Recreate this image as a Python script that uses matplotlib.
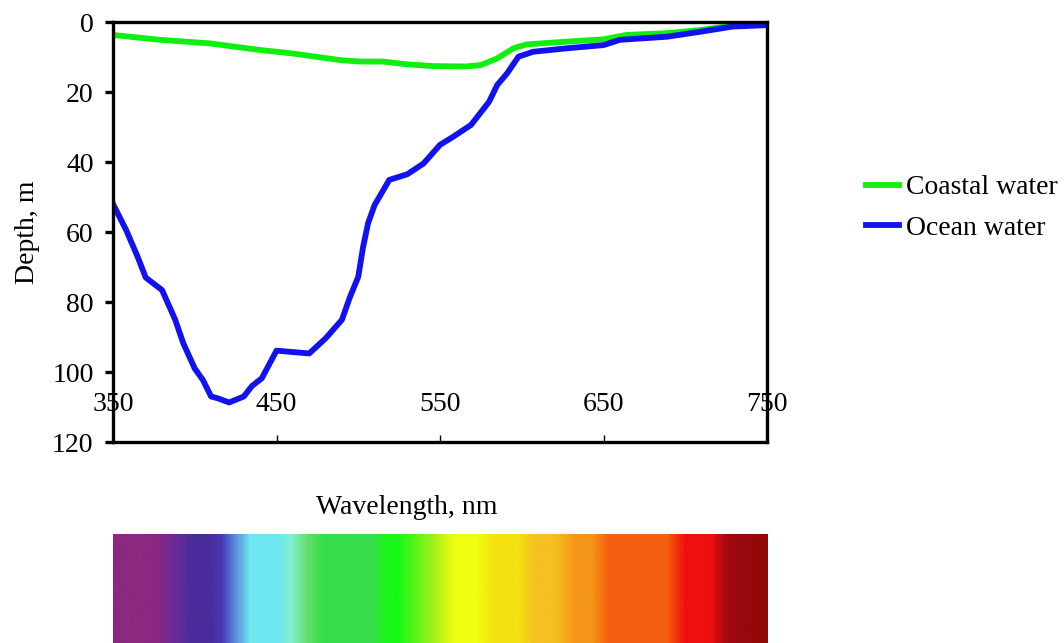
import numpy as np
import matplotlib
matplotlib.use("Agg")
import matplotlib.pyplot as plt
from matplotlib.colors import LinearSegmentedColormap, to_rgb

plt.rcParams['font.family'] = ['Liberation Serif', 'DejaVu Serif']

# ---- data ----
ocean_wl = [350, 358, 365, 370, 380, 388, 393, 400, 405, 410, 414, 421, 430, 435, 441,
            450, 460, 470, 480, 490, 495, 500, 503, 506, 510, 519, 530, 540, 550, 558,
            569, 580, 585, 591, 598, 607, 628, 650, 660, 689, 709, 729, 750]
ocean_depth = [52, 59.4, 67, 73, 76.6, 85, 91.8, 99, 102.3, 107, 107.5, 108.7, 107, 104, 101.8,
               93.9, 94.3, 94.7, 90.4, 85.1, 78.5, 72.8, 64.2, 57.5, 52.3, 45.1, 43.5, 40.4, 35.1, 32.8,
               29.4, 22.8, 18, 14.7, 9.9, 8.5, 7.5, 6.6, 5.1, 4.2, 2.8, 1.3, 0.9]

coastal_wl = [350, 379, 409, 440, 460, 489, 501, 515, 530, 546, 566, 575, 585, 595, 603,
              628, 650, 664, 689, 709, 729, 750]
coastal_depth = [3.7, 5.1, 6.1, 8, 9, 10.9, 11.3, 11.3, 12.1, 12.6, 12.7, 12.3, 10.4, 7.5, 6.4,
                 5.6, 4.95, 3.7, 3.2, 2.3, 1.0, 0.8]

x_ticks = [350, 450, 550, 650, 750]
y_ticks = [0, 20, 40, 60, 80, 100, 120]

spec_wl = [350, 376, 386, 398, 410, 416, 423, 433, 451, 458, 468, 478, 508, 518, 524,
           547, 559, 571, 584, 598, 608, 620, 633, 643, 653, 689, 700, 716, 726, 750]
spec_col = ['#8B2880', '#8B2880', '#6A2C95', '#4A2C9C', '#4A2C9C', '#4A3AB8', '#5A80D8',
            '#6EE6F0', '#6EE6F0', '#80F0D0', '#66E070', '#36DD4A', '#36DD4A', '#18F818',
            '#18F818', '#A8F018', '#F0FF10', '#F0FF10', '#F5E010', '#F5E010', '#F5C020',
            '#F5C020', '#F59518', '#F59518', '#F56010', '#F56010', '#EE1010', '#EE1010',
            '#A00810', '#900808']

FS = 20

# ---- figure ----
W, H = 1064, 643
fig = plt.figure(figsize=(W / 100, H / 100), dpi=100)

ax = fig.add_axes([113 / W, 1 - 442 / H, 654 / W, 420 / H])
ax.plot(coastal_wl, coastal_depth, color='#11EE11', lw=4.2, label='Coastal water',
        solid_joinstyle='round')
ax.plot(ocean_wl, ocean_depth, color='#1212F0', lw=4.2, label='Ocean water',
        solid_joinstyle='round')
ax.set_xlim(350, 750)
ax.set_ylim(120, 0)
ax.set_xticks(x_ticks)
ax.set_yticks(y_ticks)
for s in ax.spines.values():
    s.set_linewidth(2.4)
ax.tick_params(axis='x', direction='in', length=5, width=1, labelsize=FS, pad=-36)
ax.tick_params(axis='y', direction='out', length=6, width=2.4, labelsize=FS, pad=8)
ax.set_ylabel('Depth, m', fontsize=FS)
ax.yaxis.set_label_coords(-0.112, 0.5)

leg = ax.legend(loc='center left', bbox_to_anchor=(866 / W, 1 - 208 / H),
                bbox_transform=fig.transFigure, frameon=False, fontsize=FS,
                handlelength=1.2, handletextpad=0.25, labelspacing=0.55,
                borderpad=0, borderaxespad=0)

fig.text(407 / W, 1 - 508 / H, 'Wavelength, nm', fontsize=FS, ha='center', va='center')

# ---- spectrum bar ----
sax = fig.add_axes([113 / W, 0, 655 / W, 109 / H])
pos = [(w - spec_wl[0]) / (spec_wl[-1] - spec_wl[0]) for w in spec_wl]
cmap = LinearSegmentedColormap.from_list('spec', list(zip(pos, [to_rgb(c) for c in spec_col])))
grad = np.linspace(350, 750, 800).reshape(1, -1)
sax.imshow(grad, cmap=cmap, aspect='auto', extent=[350, 750, 0, 1], vmin=350, vmax=750)
sax.set_axis_off()

fig.savefig('out.png', dpi=100)
